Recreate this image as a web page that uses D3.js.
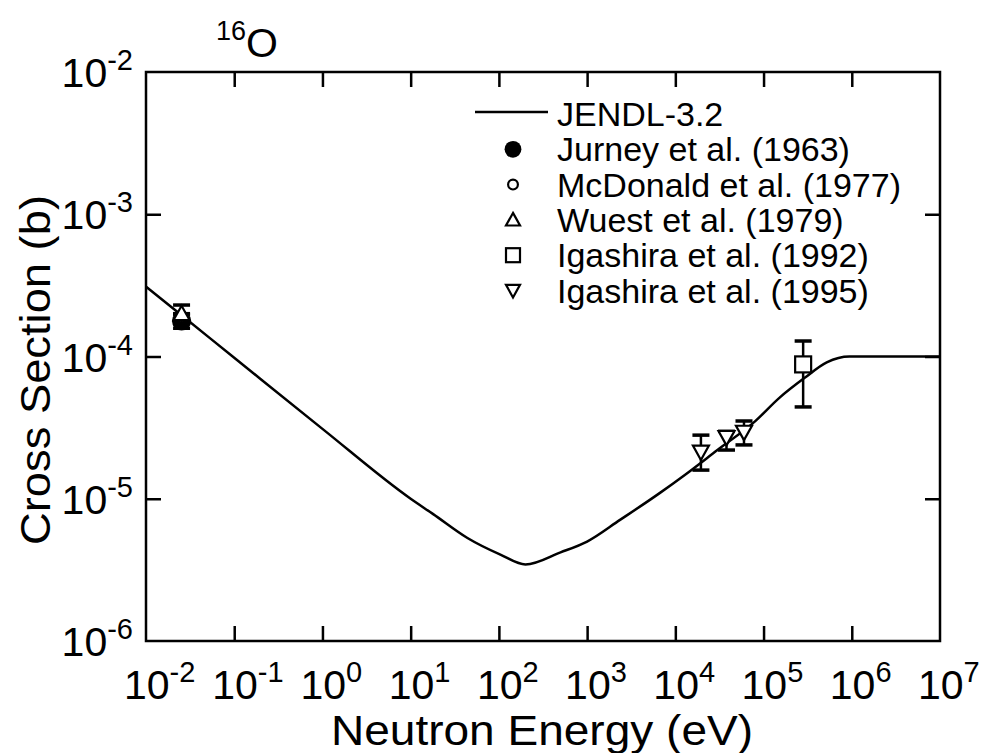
<!DOCTYPE html>
<html>
<head>
<meta charset="utf-8">
<script src="https://cdn.jsdelivr.net/npm/d3@7/dist/d3.min.js"></script>
<style>
  body { margin: 0; background: #fff; }
  text { font-family: "Liberation Sans", Arial, Helvetica, sans-serif; fill: #000; }
</style>
</head>
<body>
<svg id="chart" width="984" height="753"></svg>
<script>
// JENDL-3.2 evaluated curve (energy in eV, cross section in b)
var jendlEnergy = [0.01, 0.0253, 0.1, 1, 10, 18, 44, 104, 200, 500, 1000, 2360, 6700, 12800, 30000, 80000, 150000, 290000, 520000, 940000, 1e7];
var jendlXs = [3.1e-4, 1.95e-4, 9.8e-5, 3.1e-5, 1.0e-5, 7.8e-6, 5.3e-6, 4.05e-6, 3.45e-6, 4.2e-6, 5.0e-6, 7.1e-6, 1.1e-5, 1.47e-5, 2.2e-5, 3.5e-5, 5.1e-5, 7.05e-5, 9.1e-5, 1.0e-4, 1.0e-4];

// measurements: energy, value, lower and upper end of error bar
var jurneyE = [0.0253], jurneyXs = [1.78e-4], jurneyLo = [1.58e-4], jurneyHi = [1.98e-4];
var mcdonaldE = [0.0253], mcdonaldXs = [1.9e-4], mcdonaldLo = [1.8e-4], mcdonaldHi = [2.0e-4];
var wuestE = [0.0253], wuestXs = [2.0e-4], wuestLo = [1.7e-4], wuestHi = [2.3e-4];
var igashira92E = [2.81e5], igashira92Xs = [8.8e-5], igashira92Lo = [4.42e-5], igashira92Hi = [1.285e-4];
var igashira95E = [19500, 38000, 60000], igashira95Xs = [2.13e-5, 2.7e-5, 2.94e-5],
  igashira95Lo = [1.59e-5, 2.2e-5, 2.39e-5], igashira95Hi = [2.8e-5, 2.98e-5, 3.52e-5];

var xDecades = [-2, -1, 0, 1, 2, 3, 4, 5, 6, 7];
var yDecades = [-6, -5, -4, -3, -2];
var legendLabels = ['JENDL-3.2', 'Jurney et al. (1963)', 'McDonald et al. (1977)', 'Wuest et al. (1979)', 'Igashira et al. (1992)', 'Igashira et al. (1995)'];

var svg = d3.select('#chart');
var m = { left: 146, right: 940, top: 72, bottom: 641 };

var x = d3.scaleLog().domain([1e-2, 1e7]).range([m.left, m.right]);
var y = d3.scaleLog().domain([1e-6, 1e-2]).range([m.bottom, m.top]);

var tickLen = 15;
var xTicks = xDecades.slice(1, -1).map(function(d) { return Math.pow(10, d); });
var yTicks = yDecades.slice(1, -1).map(function(d) { return Math.pow(10, d); });

function styleAxis(g) {
  g.select('.domain').remove();
  g.selectAll('line').attr('stroke', '#000').attr('stroke-width', 2.5);
  g.selectAll('text').remove();
}

svg.append('g').attr('transform', 'translate(0,' + m.bottom + ')')
  .call(d3.axisBottom(x).tickValues(xTicks).tickSize(-tickLen)).call(styleAxis);
svg.append('g').attr('transform', 'translate(0,' + m.top + ')')
  .call(d3.axisTop(x).tickValues(xTicks).tickSize(-tickLen)).call(styleAxis);
svg.append('g').attr('transform', 'translate(' + m.left + ',0)')
  .call(d3.axisLeft(y).tickValues(yTicks).tickSize(-tickLen)).call(styleAxis);
svg.append('g').attr('transform', 'translate(' + m.right + ',0)')
  .call(d3.axisRight(y).tickValues(yTicks).tickSize(-tickLen)).call(styleAxis);

svg.append('rect')
  .attr('x', m.left).attr('y', m.top)
  .attr('width', m.right - m.left).attr('height', m.bottom - m.top)
  .attr('fill', 'none').attr('stroke', '#000').attr('stroke-width', 2.5);

// power-of-ten labels
function powLabel(sel, exp) {
  sel.append('tspan').text('10');
  sel.append('tspan').attr('dy', -17).attr('font-size', 29).text(String(exp));
}

svg.append('g').selectAll('text')
  .data(xDecades).enter()
  .append('text')
  .attr('x', function(d) { return x(Math.pow(10, d)) - 22; })
  .attr('y', 699)
  .attr('font-size', 41)
  .each(function(d) { powLabel(d3.select(this), d); });

svg.append('g').selectAll('text')
  .data(yDecades).enter()
  .append('text')
  .attr('x', 133)
  .attr('y', function(d) { return y(Math.pow(10, d)) + 15; })
  .attr('font-size', 41)
  .attr('text-anchor', 'end')
  .each(function(d) { powLabel(d3.select(this), d); });

// axis titles
svg.append('text')
  .attr('x', 542).attr('y', 745)
  .attr('font-size', 43)
  .attr('text-anchor', 'middle')
  .attr('textLength', 422)
  .attr('lengthAdjust', 'spacingAndGlyphs')
  .text('Neutron Energy (eV)');

svg.append('text')
  .attr('transform', 'translate(50,' + 370 + ') rotate(-90)')
  .attr('font-size', 42)
  .attr('text-anchor', 'middle')
  .attr('textLength', 350)
  .attr('lengthAdjust', 'spacingAndGlyphs')
  .text('Cross Section (b)');

// nuclide label
var title = svg.append('text').attr('x', 216).attr('y', 57).attr('font-size', 41);
title.append('tspan').attr('font-size', 27).attr('dy', -17).text('16');
title.append('tspan').attr('dy', 17).text('O');

// evaluated curve
var line = d3.line()
  .curve(d3.curveMonotoneX)
  .x(function(d) { return x(d[0]); })
  .y(function(d) { return y(d[1]); });

svg.append('path')
  .datum(d3.zip(jendlEnergy, jendlXs))
  .attr('d', line)
  .attr('fill', 'none')
  .attr('stroke', '#000')
  .attr('stroke-width', 2.5);

// markers
function marker(g, type, size) {
  var s = size;
  if (type === 'fcircle') {
    g.append('circle').attr('r', s * 0.6).attr('fill', '#000');
  } else if (type === 'ocircle') {
    g.append('circle').attr('r', s * 0.35).attr('fill', '#fff').attr('stroke', '#000').attr('stroke-width', 2.2);
  } else if (type === 'tri') {
    g.append('path').attr('d', 'M0,' + (-s * 0.5) + 'L' + (s * 0.5) + ',' + (s * 0.4) + 'L' + (-s * 0.5) + ',' + (s * 0.4) + 'Z')
      .attr('fill', '#fff').attr('stroke', '#000').attr('stroke-width', 2.2);
  } else if (type === 'itri') {
    g.append('path').attr('d', 'M0,' + (s * 0.5) + 'L' + (s * 0.5) + ',' + (-s * 0.4) + 'L' + (-s * 0.5) + ',' + (-s * 0.4) + 'Z')
      .attr('fill', '#fff').attr('stroke', '#000').attr('stroke-width', 2.2);
  } else if (type === 'square') {
    g.append('rect').attr('x', -s * 0.5).attr('y', -s * 0.5).attr('width', s).attr('height', s)
      .attr('fill', '#fff').attr('stroke', '#000').attr('stroke-width', 2.2);
  }
}

var sets = [
  { type: 'fcircle', e: jurneyE, v: jurneyXs, lo: jurneyLo, hi: jurneyHi },
  { type: 'ocircle', e: mcdonaldE, v: mcdonaldXs, lo: mcdonaldLo, hi: mcdonaldHi },
  { type: 'tri', e: wuestE, v: wuestXs, lo: wuestLo, hi: wuestHi },
  { type: 'square', e: igashira92E, v: igashira92Xs, lo: igashira92Lo, hi: igashira92Hi },
  { type: 'itri', e: igashira95E, v: igashira95Xs, lo: igashira95Lo, hi: igashira95Hi }
];

var cap = 8.5;
sets.forEach(function(s) {
  var pts = s.e.map(function(e, i) { return { e: e, v: s.v[i], lo: s.lo[i], hi: s.hi[i] }; });
  var g = svg.append('g');
  var eb = g.selectAll('g.eb').data(pts).enter().append('g')
    .attr('stroke', '#000').attr('stroke-width', 2.5);
  eb.append('line')
    .attr('x1', function(d) { return x(d.e); }).attr('x2', function(d) { return x(d.e); })
    .attr('y1', function(d) { return y(d.lo); }).attr('y2', function(d) { return y(d.hi); });
  eb.append('line')
    .attr('x1', function(d) { return x(d.e) - cap; }).attr('x2', function(d) { return x(d.e) + cap; })
    .attr('y1', function(d) { return y(d.lo); }).attr('y2', function(d) { return y(d.lo); })
    .attr('stroke-width', 3.5);
  eb.append('line')
    .attr('x1', function(d) { return x(d.e) - cap; }).attr('x2', function(d) { return x(d.e) + cap; })
    .attr('y1', function(d) { return y(d.hi); }).attr('y2', function(d) { return y(d.hi); })
    .attr('stroke-width', 3.5);
  g.selectAll('g.mk').data(pts).enter().append('g')
    .attr('transform', function(d) { return 'translate(' + x(d.e) + ',' + y(d.v) + ')'; })
    .each(function() { marker(d3.select(this), s.type, 16); });
});

// legend
var legTypes = ['line', 'fcircle', 'ocircle', 'tri', 'square', 'itri'];
var leg = svg.append('g');
var rows = leg.selectAll('g').data(legendLabels).enter().append('g')
  .attr('transform', function(d, i) { return 'translate(0,' + (114 + i * 35.3) + ')'; });
rows.each(function(d, i) {
  var r = d3.select(this);
  if (legTypes[i] === 'line') {
    r.append('line').attr('x1', 475).attr('x2', 548).attr('y1', -2).attr('y2', -2)
      .attr('stroke', '#000').attr('stroke-width', 2.5);
  } else {
    var mg = r.append('g').attr('transform', 'translate(513,0)');
    marker(mg, legTypes[i], 14);
  }
  r.append('text').attr('x', 557).attr('y', 12).attr('font-size', 34).text(d);
});
</script>
</body>
</html>
